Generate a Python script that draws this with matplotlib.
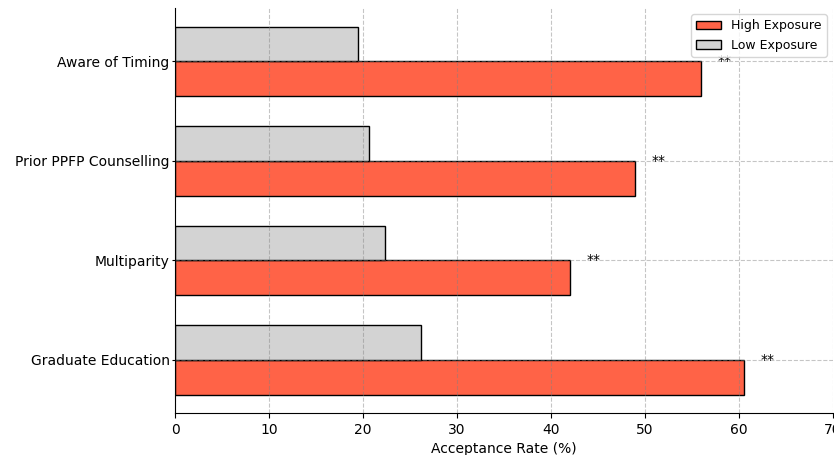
import numpy as np
import matplotlib
matplotlib.use("Agg")
import matplotlib.pyplot as plt

categories = ["Graduate Education", "Multiparity", "Prior PPFP Counselling", "Aware of Timing"]
high_exposure = [60.5, 42.0, 48.9, 56.0]
low_exposure = [26.2, 22.3, 20.6, 19.5]
marks = ["**", "**", "**", "**"]

y = np.arange(len(categories))
h = 0.35

fig = plt.figure(figsize=(8.34, 4.55), dpi=100)
ax = fig.add_axes([0.21, 0.092, 0.7886, 0.89])

ax.barh(y - h / 2, high_exposure, height=h, color="#FF6347", edgecolor="black",
        linewidth=1.0, label="High Exposure")
ax.barh(y + h / 2, low_exposure, height=h, color="#D3D3D3", edgecolor="black",
        linewidth=1.0, label="Low Exposure")

for yi, val, m in zip(y, high_exposure, marks):
    ax.text(val + 2.5, yi, m, ha="center", va="center", fontsize=10)

ax.set_yticks(y)
ax.set_yticklabels(categories, fontsize=10)
ax.set_xlim(0, 70)
ax.set_xticks(range(0, 71, 10))
ax.tick_params(axis="x", labelsize=10)
ax.tick_params(axis="y", length=2, pad=2)
ax.set_xlabel("Acceptance Rate (%)", fontsize=10)

ax.grid(True, linestyle="--", color="gray", alpha=0.45, linewidth=0.8)
ax.spines["top"].set_visible(False)
ax.spines["right"].set_visible(False)

ax.legend(loc="upper right", fontsize=9)

fig.savefig("out.png", dpi=100)
